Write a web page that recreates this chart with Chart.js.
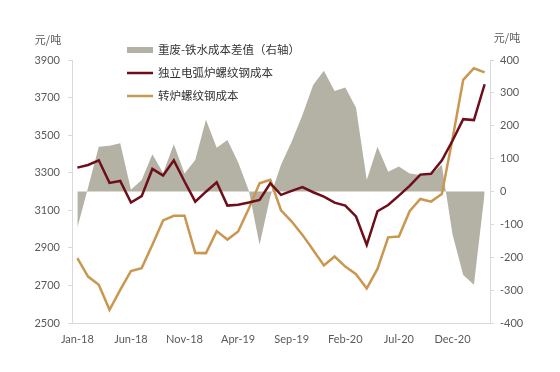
<!DOCTYPE html>
<html>
<head>
<meta charset="utf-8">
<script src="https://cdn.jsdelivr.net/npm/chart.js@4"></script>
<style>
  html, body { margin: 0; padding: 0; background: #fff; }
  #wrap { width: 560px; height: 372px; }
</style>
</head>
<body>
<div id="wrap"><canvas id="canvas" width="560" height="372"></canvas></div>
<script>
var months = [
    'Jan-18', 'Feb-18', 'Mar-18', 'Apr-18', 'May-18', 'Jun-18', 'Jul-18', 'Aug-18', 'Sep-18', 'Oct-18', 'Nov-18', 'Dec-18',
    'Jan-19', 'Feb-19', 'Mar-19', 'Apr-19', 'May-19', 'Jun-19', 'Jul-19', 'Aug-19', 'Sep-19', 'Oct-19', 'Nov-19', 'Dec-19',
    'Jan-20', 'Feb-20', 'Mar-20', 'Apr-20', 'May-20', 'Jun-20', 'Jul-20', 'Aug-20', 'Sep-20', 'Oct-20', 'Nov-20', 'Dec-20',
    'Jan-21', 'Feb-21', 'Mar-21'
]

// 重废-铁水成本差值（右轴）
var scrapDiff = [-110, 12, 136, 139, 147, 5, 35, 113, 56, 144, 55, 96, 218, 133, 157, 89, 2, -162, -15, 81,
    152, 233, 324, 367, 306, 316, 255, 35, 136, 60, 76, 55, 50, 50, 81, -130, -254, -284, -5]

// 独立电弧炉螺纹钢成本
var eafCost = [3327, 3341, 3366, 3246, 3256, 3141, 3175, 3320, 3285, 3366, 3253, 3146, 3199, 3249, 3125, 3129, 3141, 3155, 3244, 3182,
    3203, 3223, 3196, 3173, 3141, 3125, 3067, 2916, 3095, 3128, 3178, 3230, 3290, 3294, 3365, 3470, 3585, 3580, 3771]

// 转炉螺纹钢成本
var bofCost = [2845, 2747, 2703, 2570, 2676, 2777, 2792, 2916, 3046, 3071, 3071, 2873, 2872, 2989, 2944, 2987, 3110, 3244, 3262, 3100,
    3040, 2969, 2889, 2806, 2854, 2800, 2760, 2684, 2788, 2956, 2960, 3095, 3160, 3146, 3186, 3480, 3794, 3856, 3834]

var seriesNames = ['重废-铁水成本差值（右轴）', '独立电弧炉螺纹钢成本', '转炉螺纹钢成本']
var unitLabel = '元/吨'

var grayColor = 'rgb(180,178,164)'
var redColor = 'rgb(110,14,26)'
var goldColor = 'rgb(201,151,80)'
var textColor = '#595959'
var axisColor = '#d9d9d9'
var cjkFont = '"Noto Sans CJK SC", sans-serif'

// legend + unit labels drawn inside the canvas
var extraText = {
    id: 'extraText',
    afterDraw: function(chart) {
        var ctx = chart.ctx
        var area = chart.chartArea
        ctx.save()
        ctx.fillStyle = textColor
        ctx.font = '11px ' + cjkFont
        ctx.textBaseline = 'middle'
        ctx.textAlign = 'center'
        ctx.fillText(unitLabel, area.left - 24, area.top - 20)
        ctx.fillText(unitLabel, area.right + 17, area.top - 22)

        var lx = 127, tx = 158
        var rows = [50, 73, 96]
        ctx.fillStyle = grayColor
        ctx.fillRect(lx, rows[0] - 3, 26, 6)
        ctx.lineWidth = 2.5
        ctx.strokeStyle = redColor
        ctx.beginPath(); ctx.moveTo(lx, rows[1]); ctx.lineTo(lx + 26, rows[1]); ctx.stroke()
        ctx.strokeStyle = goldColor
        ctx.beginPath(); ctx.moveTo(lx, rows[2]); ctx.lineTo(lx + 26, rows[2]); ctx.stroke()

        ctx.fillStyle = '#333'
        ctx.textAlign = 'left'
        ctx.font = '11.5px ' + cjkFont
        for (var i = 0; i < seriesNames.length; i++) {
            ctx.fillText(seriesNames[i], tx, rows[i])
        }
        ctx.restore()
    }
}

var plainNum = function(v) { return String(v) }

var ctx = document.getElementById('canvas').getContext('2d')
var chart = new Chart(ctx, {
    type: 'line',
    data: {
        labels: months,
        datasets: [{
            label: seriesNames[0],
            data: scrapDiff,
            yAxisID: 'y1',
            fill: 'origin',
            backgroundColor: grayColor,
            borderWidth: 0,
            pointRadius: 0,
            order: 3
        }, {
            label: seriesNames[1],
            data: eafCost,
            yAxisID: 'y',
            fill: false,
            borderColor: redColor,
            borderWidth: 2.5,
            pointRadius: 0,
            order: 1
        }, {
            label: seriesNames[2],
            data: bofCost,
            yAxisID: 'y',
            fill: false,
            borderColor: goldColor,
            borderWidth: 2.5,
            pointRadius: 0,
            order: 2
        }]
    },
    plugins: [extraText],
    options: {
        responsive: false,
        animation: false,
        layout: { padding: { top: 60, left: 0, right: 0, bottom: 0 } },
        plugins: {
            legend: { display: false },
            tooltip: { enabled: false }
        },
        elements: { line: { tension: 0 } },
        scales: {
            x: {
                offset: true,
                grid: { display: false, drawTicks: false },
                border: { display: true, color: axisColor, width: 1 },
                ticks: {
                    autoSkip: false,
                    maxRotation: 0,
                    padding: 10,
                    color: textColor,
                    font: { family: 'Lato', size: 11 },
                    callback: function(v, i) { return i % 5 === 0 ? months[i] : '' }
                },
                afterFit: function(scale) { scale.height = 49 }
            },
            y: {
                position: 'left',
                min: 2500,
                max: 3900,
                grid: { display: true, drawOnChartArea: false, drawTicks: true, tickLength: 4, color: axisColor },
                border: { display: true, color: axisColor },
                ticks: {
                    stepSize: 200,
                    padding: 8,
                    color: textColor,
                    font: { family: 'Lato', size: 11 },
                    callback: plainNum
                },
                afterFit: function(scale) { scale.width = 72 }
            },
            y1: {
                position: 'right',
                min: -400,
                max: 400,
                grid: { display: true, drawOnChartArea: false, drawTicks: true, tickLength: 4, color: axisColor },
                border: { display: true, color: axisColor },
                ticks: {
                    stepSize: 100,
                    padding: 6,
                    color: textColor,
                    font: { family: 'Lato', size: 11 },
                    callback: plainNum
                },
                afterFit: function(scale) { scale.width = 70 }
            }
        }
    }
})
</script>
</body>
</html>
